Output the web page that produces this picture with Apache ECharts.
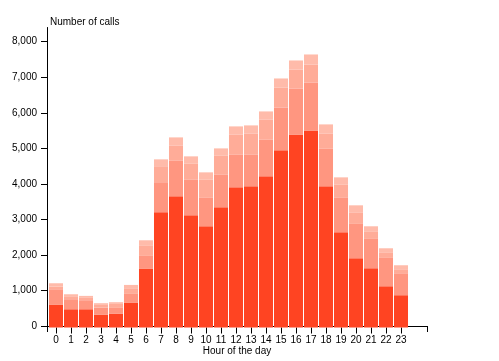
<!DOCTYPE html>
<html>
<head>
<meta charset="utf-8">
<script src="https://cdn.jsdelivr.net/npm/echarts@6/dist/echarts.min.js"></script>
<style>
html,body{margin:0;padding:0;background:#fff;}
#chart{width:499px;height:361px;}
</style>
</head>
<body>
<div id="chart"></div>
<script>
const hours = ['0','1','2','3','4','5','6','7','8','9','10','11','12','13','14','15','16','17','18','19','20','21','22','23'];
const layer1 = [632,511,511,353,381,688,1640,3230,3673,3141,2834,3365,3924,3952,4232,4960,5407,5519,3952,2666,1938,1659,1155,904];
const layer2 = [439,281,253,206,167,252,382,838,1007,1007,811,923,924,896,1035,1202,1287,1343,1063,979,980,839,811,615];
const layer3 = [76,83,65,73,112,159,280,448,419,448,503,532,559,587,560,560,531,503,420,363,307,196,140,112];
const layer4 = [92,56,56,48,48,93,140,192,224,196,196,195,224,224,223,251,252,280,252,196,196,140,112,112];
const layerNames = ['Layer 1','Layer 2','Layer 3','Layer 4'];
const layerColors = ['#ff4422','#ff9680','#ffac98','#ffbbaa'];
const yMax = 8400;
const yInterval = 1000;

const FONT = '"Liberation Sans", Arial, sans-serif';
const layers = [layer1, layer2, layer3, layer4];

const chart = echarts.init(document.getElementById('chart'), null, {renderer:'canvas'});
chart.setOption({
  animation: false,
  backgroundColor: '#fff',
  grid: [
    {left: 48.5, width: 360, top: 27.5, bottom: 33.5},
    {left: 47, right: 72, top: 27.5, bottom: 33.5}
  ],
  xAxis: [
    {
      type: 'category', gridIndex: 0, data: hours,
      axisLine: {show: false},
      axisTick: {show: true, alignWithLabel: true, length: 6, lineStyle: {color: '#000', width: 1}},
      axisLabel: {color: '#000', fontSize: 10, fontFamily: FONT, margin: 8, interval: 0}
    },
    {
      type: 'value', gridIndex: 1, min: 0, max: 1, interval: 1,
      name: 'Hour of the day', nameLocation: 'middle', nameGap: 20,
      nameTextStyle: {color: '#000', fontSize: 10, fontFamily: FONT},
      axisLine: {show: true, lineStyle: {color: '#000', width: 1}},
      axisTick: {show: true, length: 6, lineStyle: {color: '#000', width: 1}},
      axisLabel: {show: false},
      splitLine: {show: false}
    }
  ],
  yAxis: [
    {
      type: 'value', gridIndex: 0, min: 0, max: yMax, interval: yInterval,
      show: false, splitLine: {show: false}
    },
    {
      type: 'value', gridIndex: 1, min: 0, max: yMax, interval: yInterval,
      name: 'Number of calls', nameLocation: 'end', nameGap: 0,
      nameTextStyle: {color: '#000', fontSize: 10, fontFamily: FONT, align: 'left', verticalAlign: 'bottom', padding: [0,0,0,3]},
      axisLine: {show: true, lineStyle: {color: '#000', width: 1}},
      axisTick: {show: true, length: 6, lineStyle: {color: '#000', width: 1}},
      axisLabel: {color: '#000', fontSize: 10, fontFamily: FONT, margin: 10, showMaxLabel: false,
        formatter: v => Number(v).toLocaleString('en-US')},
      splitLine: {show: false}
    }
  ],
  series: layers.map((d, i) => ({
    name: layerNames[i], type: 'bar', stack: 'calls',
    xAxisIndex: 0, yAxisIndex: 0,
    barWidth: 14,
    itemStyle: {color: layerColors[i]},
    data: d
  }))
});
</script>
</body>
</html>
